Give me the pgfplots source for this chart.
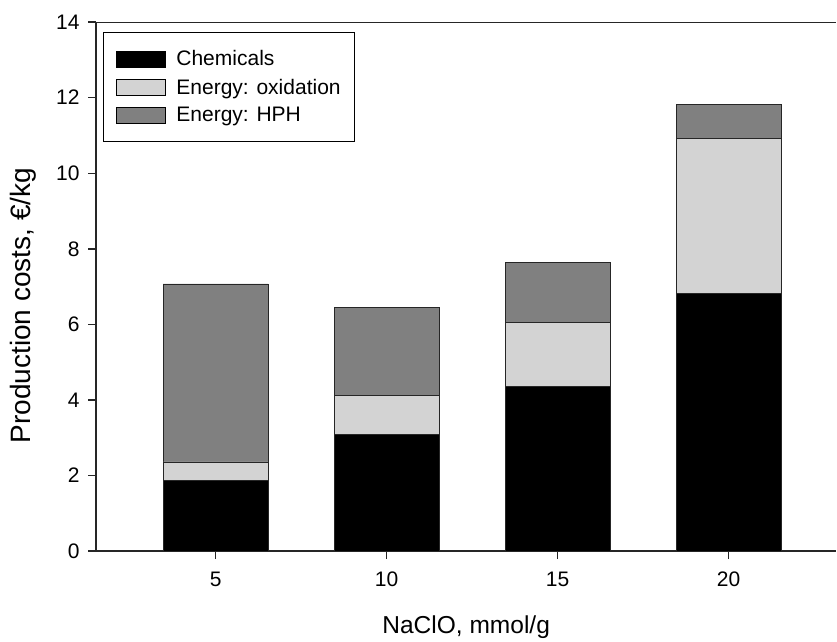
\documentclass[border=0pt]{standalone}
\usepackage{pgfplots}
\pgfplotsset{compat=1.18}
\usepackage{fontspec}
\setmainfont{Liberation Sans}
\definecolor{oxid}{RGB}{211,211,211}
\definecolor{hph}{RGB}{128,128,128}
\begin{document}
\begin{tikzpicture}
\begin{axis}[
 scale only axis, width=740pt, height=529pt,
 ybar stacked, bar width=105pt,
 xmin=-0.70, xmax=3.63, ymin=0, ymax=14,
 xtick={0,1,2,3}, xticklabels={5,10,15,20},
 ytick={0,2,...,14},
 axis x line*=bottom, axis y line*=left,
 axis line style={-, line width=1.4pt, black!85},
 x axis line style={shorten <=-8pt},
 tick align=outside, major tick length=8pt,
 tick style={line width=1.4pt, black!85},
 /pgf/number format/assume math mode=true,
 tick label style={font=\fontsize{21}{25}\selectfont},
 xticklabel style={yshift=-9pt},
 yticklabel style={xshift=-5pt},
 xlabel={NaClO, mmol/g}, ylabel={Production costs, €/kg},
 xlabel style={yshift=-22pt, font=\fontsize{24.5}{28}\selectfont},
 ylabel style={at={(axis description cs:-0.0986,0.464)}, rotate=0, anchor=center, font=\fontsize{28}{32}\selectfont},
 legend style={at={(0.0095,0.9817)}, anchor=north west, draw=black, line width=1pt,
   inner xsep=12pt, inner ysep=16.5pt, row sep=7.5pt, font=\fontsize{21}{25}\selectfont,
   cells={anchor=west},
   /tikz/every odd column/.append style={column sep=9pt}},
 legend image code/.code={\draw[#1, draw=black, line width=0.8pt] (0pt,-8pt) rectangle (49pt,8pt);},
 every axis plot/.append style={draw=black!85, line width=0.8pt},
]
\addplot[fill=black] coordinates {(0,1.86) (1,3.10) (2,4.35) (3,6.82)};
\addplot[fill=oxid] coordinates {(0,0.50) (1,1.03) (2,1.71) (3,4.09)};
\addplot[fill=hph] coordinates {(0,4.71) (1,2.33) (2,1.57) (3,0.91)};
\legend{Chemicals, Energy: oxidation, Energy: HPH}
\draw[line width=1.4pt, black!85] (rel axis cs:0,1) -- (rel axis cs:1,1);
\end{axis}
\path ([xshift=-96pt,yshift=-87pt]current axis.south west) rectangle ([yshift=22pt]current axis.north east);
\end{tikzpicture}
\end{document}
